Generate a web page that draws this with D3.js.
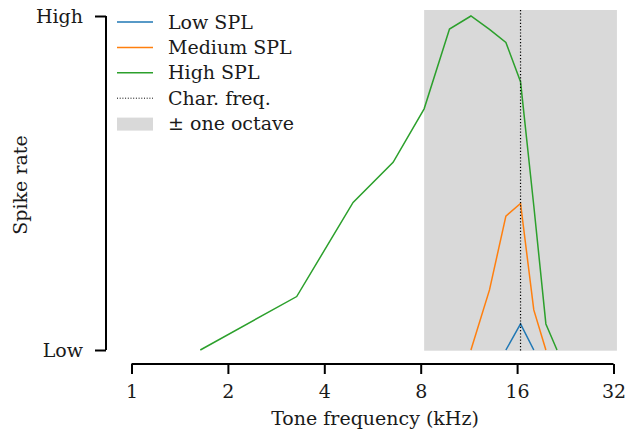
<!DOCTYPE html>
<html>
<head>
<meta charset="utf-8">
<script src="https://cdn.jsdelivr.net/npm/d3@7"></script>
<style>
  body { margin: 0; background: #fff; }
  svg { display: block; }
  text { font-family: "DejaVu Serif", serif; fill: #1a1a1a; }
</style>
</head>
<body>
<svg width="627" height="433"></svg>
<script>
// tone frequencies are CF/10 steps (kHz)
const charFreq = 16.4;
const freqs = [1.64, 3.28, 4.92, 6.56, 8.2, 9.84, 11.48, 13.12, 14.76, 16.4, 18.04, 19.68, 21.32];

// normalised spike rate, null = not drawn
const lowSPL    = [null, null, null, null, null, null, null, null, 0, 0.078, 0, null, null];
const mediumSPL = [null, null, null, null, null, null, 0, 0.18, 0.401, 0.439, 0.12, 0, null];
const highSPL   = [0, 0.16, 0.442, 0.562, 0.722, 0.961, 1.0, 0.96, 0.921, 0.803, 0.432, 0.078, 0];

const xTicks = [1, 2, 4, 8, 16, 32];
const yTicks = [0, 1];
const yTickLabels = ["Low", "High"];

const series = [
    {name: "Low SPL", values: lowSPL, color: "#1f77b4"},
    {name: "Medium SPL", values: mediumSPL, color: "#ff7f0e"},
    {name: "High SPL", values: highSPL, color: "#2ca02c"}
];

const fontSize = "19px";
const svg = d3.select("svg");

const x = d3.scaleLog().base(2).domain([1, 32]).range([131.5, 613.5]);
const y = d3.scaleLinear().domain([0, 1]).range([350, 16]);
const axesTop = 10;

// ± one octave span
svg.append("rect")
    .attr("x", x(charFreq / 2))
    .attr("y", axesTop)
    .attr("width", x(charFreq * 2) - x(charFreq / 2))
    .attr("height", y(0) + 0.7 - axesTop)
    .attr("fill", "#d9d9d9");

// data lines
const line = d3.line()
    .defined(d => d.v !== null)
    .x(d => x(d.f))
    .y(d => y(d.v));

series.forEach(s => {
    const pts = freqs.map((f, i) => ({f: f, v: s.values[i]}));
    svg.append("path")
        .datum(pts)
        .attr("d", line)
        .attr("fill", "none")
        .attr("stroke", s.color)
        .attr("stroke-width", 1.5);
});

// characteristic frequency
svg.append("line")
    .attr("x1", x(charFreq)).attr("x2", x(charFreq))
    .attr("y1", axesTop).attr("y2", y(0) + 0.7)
    .attr("stroke", "#000")
    .attr("stroke-width", 1.2)
    .attr("stroke-dasharray", "1.2,2");

// x axis
const xAxis = svg.append("g")
    .attr("transform", "translate(0,364)")
    .call(d3.axisBottom(x).tickValues(xTicks).tickFormat(d3.format("d")).tickSize(10).tickPadding(11));
xAxis.attr("font-family", null).attr("font-size", null);
xAxis.select(".domain").attr("stroke", "#000").attr("stroke-width", 2).attr("d", `M${x(1)},0H${x(32)}`);
xAxis.selectAll(".tick line").attr("stroke", "#000").attr("stroke-width", 2);
xAxis.selectAll("text").style("font-size", fontSize).attr("fill", "#1a1a1a");

// y axis
const yAxis = svg.append("g")
    .attr("transform", "translate(106,0)")
    .call(d3.axisLeft(y).tickValues(yTicks).tickFormat((d, i) => yTickLabels[i]).tickSize(11).tickPadding(12));
yAxis.attr("font-family", null).attr("font-size", null);
yAxis.select(".domain").attr("stroke", "#000").attr("stroke-width", 2).attr("d", `M0,${y(0)}V${y(1)}`);
yAxis.selectAll(".tick line").attr("stroke", "#000").attr("stroke-width", 2);
yAxis.selectAll("text").style("font-size", fontSize).attr("fill", "#1a1a1a");

// axis labels
svg.append("text")
    .attr("x", 375)
    .attr("y", 425)
    .attr("text-anchor", "middle")
    .style("font-size", fontSize)
    .text("Tone frequency (kHz)");

svg.append("text")
    .attr("transform", "translate(27,185) rotate(-90)")
    .attr("text-anchor", "middle")
    .style("font-size", fontSize)
    .text("Spike rate");

// legend
const legend = svg.append("g").attr("transform", "translate(117,22)");
const rowH = 25.4;
const items = series.map(s => ({label: s.name, type: "line", color: s.color}))
    .concat([{label: "Char. freq.", type: "dot"}, {label: "± one octave", type: "patch"}]);

items.forEach((d, i) => {
    const g = legend.append("g").attr("transform", `translate(0,${i * rowH})`);
    if (d.type === "line") {
        g.append("line").attr("x1", 0).attr("x2", 36).attr("stroke", d.color).attr("stroke-width", 1.5);
    } else if (d.type === "dot") {
        g.append("line").attr("x1", 0).attr("x2", 36).attr("stroke", "#000")
            .attr("stroke-width", 1).attr("stroke-dasharray", "1,1.7");
    } else {
        g.append("rect").attr("x", 0).attr("y", -6).attr("width", 36).attr("height", 13).attr("fill", "#d9d9d9");
    }
    g.append("text")
        .attr("x", 51)
        .attr("dy", "0.35em")
        .style("font-size", fontSize)
        .text(d.label);
});
</script>
</body>
</html>
